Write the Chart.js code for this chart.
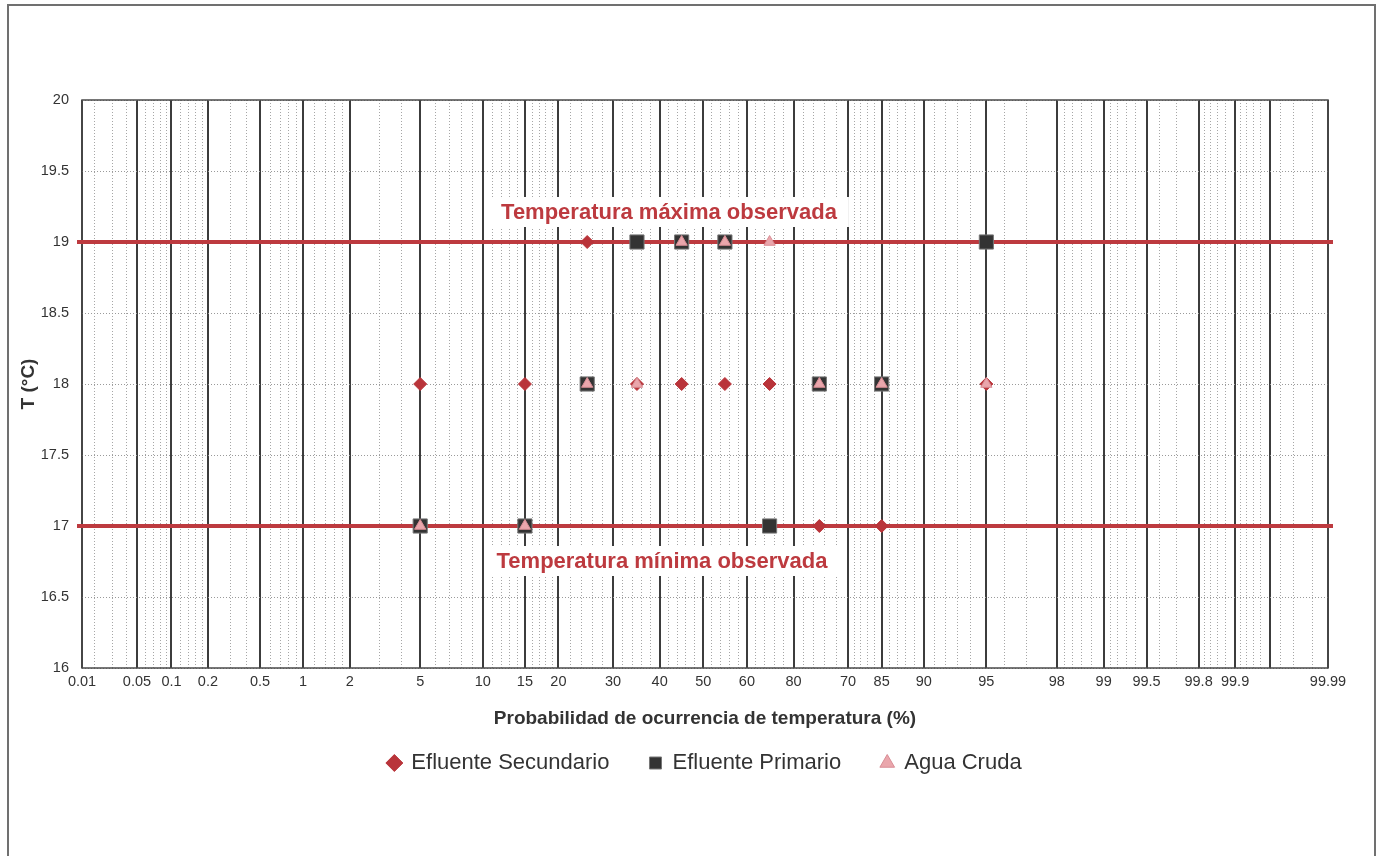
<!DOCTYPE html>
<html>
<head>
<meta charset="utf-8">
<title>Probabilidad de ocurrencia de temperatura</title>
<script src="https://cdn.jsdelivr.net/npm/chart.js@4.4.1/dist/chart.umd.min.js"></script>
<style>
html,body{margin:0;padding:0;background:#fff;}
#wrap{position:relative;width:1380px;height:856px;}
</style>
</head>
<body>
<div id="wrap"><canvas id="chart"></canvas></div>
<script>
// plotting positions (%) shared by the three series
const probPos=[5,15,25,35,45,55,65,75,85,95];
const tempSecundario=[18,18,19,18,18,18,18,17,17,18];
const tempPrimario=[17,17,18,19,19,19,17,18,18,19];
const tempCruda=[17,17,18,18,19,19,19,18,18,18];

const limitTemps=[19,17];
const limitLabels=['Temperatura máxima observada','Temperatura mínima observada'];

// probability paper: heavy lines, their labels (70/80 swapped as in the original) and light lines
const majorProbs=[0.05,0.1,0.2,0.5,1,2,5,10,15,20,30,40,50,60,70,80,85,90,95,98,99,99.5,99.8,99.9,99.95];
const majorLabels=['0.05','0.1','0.2','0.5','1','2','5','10','15','20','30','40','50','60','80','70','85','90','95','98','99','99.5','99.8','99.9',''];
const endLabels=['0.01','99.99'];
const minorProbs=[0.02,0.03,0.04,0.06,0.07,0.08,0.09,0.12,0.14,0.16,0.18,0.3,0.4,0.6,0.7,0.8,0.9,
  1.2,1.4,1.6,1.8,3,4,6,7,8,9,11,12,13,14,16,17,18,19,22,24,26,28,32,34,36,38,42,44,46,48,
  52,54,56,58,62,64,66,68,72,74,76,78,81,82,83,84,86,87,88,89,91,92,93,94,96,97,
  98.2,98.4,98.6,98.8,99.1,99.2,99.3,99.4,99.6,99.7,99.82,99.84,99.86,99.88,99.91,99.92,99.93,99.94,99.96,99.97,99.98];
const zMin=-3.61, zMax=3.63;

// inverse normal cdf (Acklam)
function probit(p){
  const a=[-39.69683028665376,220.9460984245205,-275.9285104469687,138.357751867269,-30.66479806614716,2.506628277459239];
  const b=[-54.47609879822406,161.5858368580409,-155.6989798598866,66.80131188771972,-13.28068155288572];
  const c=[-0.007784894002430293,-0.3223964580411365,-2.400758277161838,-2.549671180339063,4.374664141464968,2.938163982698783];
  const d=[0.007784695709041462,0.3224671290700398,2.445134137142996,3.754408661907416];
  const pl=0.02425;
  let q,r;
  if(p<pl){
    q=Math.sqrt(-2*Math.log(p));
    return (((((c[0]*q+c[1])*q+c[2])*q+c[3])*q+c[4])*q+c[5])/((((d[0]*q+d[1])*q+d[2])*q+d[3])*q+1);
  }
  if(p>1-pl){
    q=Math.sqrt(-2*Math.log(1-p));
    return -(((((c[0]*q+c[1])*q+c[2])*q+c[3])*q+c[4])*q+c[5])/((((d[0]*q+d[1])*q+d[2])*q+d[3])*q+1);
  }
  q=p-0.5; r=q*q;
  return (((((a[0]*r+a[1])*r+a[2])*r+a[3])*r+a[4])*r+a[5])*q/(((((b[0]*r+b[1])*r+b[2])*r+b[3])*r+b[4])*r+1);
}

const majorValues=[zMin,...majorProbs.map(p=>probit(p/100)),zMax];
const majorText=[endLabels[0],...majorLabels,endLabels[1]];
const pts=temps=>probPos.map((p,i)=>({x:probit(p/100),y:temps[i]}));

const RED='#bd3a3f';

const paperPlugin={
  id:'paper',
  beforeDraw(chart){
    const ctx=chart.ctx;
    ctx.save();
    ctx.fillStyle='#fff';
    ctx.fillRect(0,0,chart.width,chart.height);
    ctx.strokeStyle='#707070';
    ctx.lineWidth=2;
    ctx.strokeRect(8,5,1367,900);
    ctx.restore();
  },
  beforeDatasetsDraw(chart){
    const ctx=chart.ctx, a=chart.chartArea, ys=chart.scales.y;
    ctx.save();
    ctx.strokeStyle='#4a4a4a';
    ctx.lineWidth=1.5;
    ctx.strokeRect(a.left,a.top,a.right-a.left,a.bottom-a.top);
    const cx=(a.left+a.right)/2;
    const textDx=[-36,-43], textDy=[-30,35];
    limitTemps.forEach((t,i)=>{
      const y=ys.getPixelForValue(t);
      ctx.strokeStyle=RED;
      ctx.lineWidth=4;
      ctx.beginPath();
      ctx.moveTo(a.left-5,y);
      ctx.lineTo(a.right+5,y);
      ctx.stroke();
      ctx.font="bold 22px 'Liberation Sans', Arial, sans-serif";
      const w=ctx.measureText(limitLabels[i]).width;
      const tx=cx+textDx[i], ty=y+textDy[i];
      ctx.fillStyle='#fff';
      ctx.fillRect(tx-w/2-12,ty-15,w+24,30);
      ctx.fillStyle=RED;
      ctx.textAlign='center';
      ctx.textBaseline='middle';
      ctx.fillText(limitLabels[i],tx,ty+1);
    });
    ctx.restore();
  }
};

Chart.defaults.font.family="'Liberation Sans', Arial, sans-serif";
Chart.defaults.color='#333';

new Chart(document.getElementById('chart'),{
  type:'scatter',
  data:{
    datasets:[
      {label:'Efluente Secundario',data:pts(tempSecundario),pointStyle:'rectRot',pointRadius:6.5,
        backgroundColor:'#b9343a',borderColor:'#b9343a',borderWidth:1,order:3},
      {label:'Efluente Primario',data:pts(tempPrimario),pointStyle:'rect',pointRadius:10,
        backgroundColor:'#333',borderColor:'#777',borderWidth:1,order:2},
      {label:'Agua Cruda',data:pts(tempCruda),pointStyle:'triangle',pointRadius:6.5,
        backgroundColor:'#eaa6ac',borderColor:'#d98d95',borderWidth:1,order:1}
    ]
  },
  options:{
    responsive:true,
    maintainAspectRatio:false,
    animation:false,
    events:[],
    layout:{padding:{left:10,right:52,top:100,bottom:72}},
    scales:{
      x:{
        type:'linear',position:'bottom',min:zMin,max:zMax,
        afterBuildTicks:s=>{s.ticks=majorValues.map(v=>({value:v}));},
        ticks:{autoSkip:false,maxRotation:0,padding:5,color:'#333',font:{size:14.5},
          callback:(v,i)=>majorText[i]},
        grid:{color:'#3c3c3c',lineWidth:2,drawTicks:false},
        border:{display:false},
        title:{display:true,text:'Probabilidad de ocurrencia de temperatura (%)',color:'#333',
          font:{size:19,weight:'bold'},padding:{top:0,bottom:-18}},
        afterFit:s=>{s.height=44;}
      },
      xm:{
        type:'linear',position:'bottom',min:zMin,max:zMax,
        afterBuildTicks:s=>{s.ticks=minorProbs.map(p=>({value:probit(p/100)}));},
        ticks:{display:false},
        grid:{color:'#a6a6a6',lineWidth:1,drawTicks:false,z:-1},
        border:{display:false,dash:[1,2]},
        afterFit:s=>{s.height=0;}
      },
      y:{
        type:'linear',min:16,max:20,
        ticks:{stepSize:0.5,padding:13,color:'#333',font:{size:14.5},callback:v=>String(v)},
        grid:{color:'#9a9a9a',lineWidth:1,drawTicks:false,z:-1},
        border:{display:false,dash:[1,2]},
        title:{display:true,text:'T (°C)',color:'#333',font:{size:19,weight:'bold'},padding:{top:7,bottom:0}},
        afterFit:s=>{s.width=72;}
      }
    },
    plugins:{
      legend:{
        position:'bottom',fullSize:false,
        labels:{usePointStyle:true,boxWidth:12,boxHeight:12,padding:40,color:'#333',font:{size:22},
          sort:(a,b)=>a.datasetIndex-b.datasetIndex}
      },
      tooltip:{enabled:false}
    }
  },
  plugins:[paperPlugin]
});
</script>
</body>
</html>
